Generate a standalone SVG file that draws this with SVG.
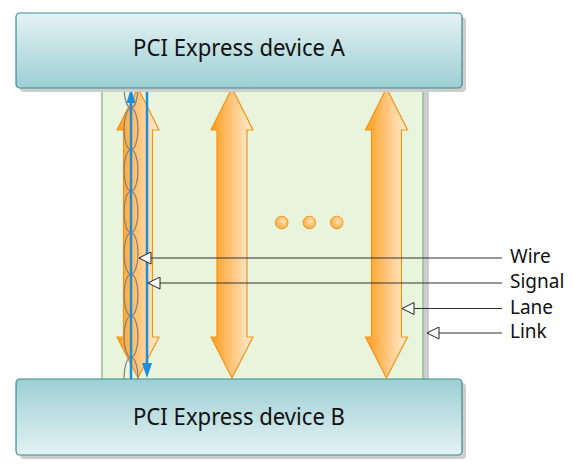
<svg xmlns="http://www.w3.org/2000/svg" width="574" height="474" viewBox="0 0 574 474">
<defs>
<linearGradient id="gA" x1="0" y1="0" x2="0" y2="1"><stop offset="0" stop-color="#e4f2f4"/><stop offset="1" stop-color="#9dcfd3"/></linearGradient>
<linearGradient id="gB" x1="0" y1="0" x2="0" y2="1"><stop offset="0" stop-color="#9dcfd3"/><stop offset="1" stop-color="#e4f2f4"/></linearGradient>
<linearGradient id="gLane" x1="0" y1="0" x2="1" y2="0"><stop offset="0.1" stop-color="#ffa42e"/><stop offset="0.9" stop-color="#ffe6c6"/></linearGradient>
<radialGradient id="gDot" cx="0.6" cy="0.4" r="0.7"><stop offset="0" stop-color="#ffe2b8"/><stop offset="1" stop-color="#ffa42e"/></radialGradient>
<marker id="tri" viewBox="0 0 13 13" refX="12.5" refY="6.5" markerWidth="13" markerHeight="13" markerUnits="userSpaceOnUse" orient="auto">
<path d="M12.5,6.5 L0.5,0.5 L0.5,12.5 Z" fill="#fff" stroke="#222" stroke-width="1"/>
</marker>
</defs>
<style>
.box{stroke:#3a8b8d;stroke-width:1.2}
.shadow{fill:#cdcdcd}
.title{font-family:"Noto Sans","Open Sans",sans-serif;font-size:23.5px;fill:#111}
.lab{font-family:"Noto Sans","Open Sans",sans-serif;font-size:19px;fill:#111}
.lane{fill:url(#gLane);stroke:#f0951a;stroke-width:1.2}
.blue{stroke:#1a8fe0;stroke-width:2.5;fill:none}
.twist{fill:none;stroke:#7f7f7f;stroke-width:1.2}
.ptr{stroke:#333;stroke-width:1.2;fill:none}
.dot{fill:url(#gDot);stroke:#f0951a;stroke-width:1}
</style>
<g id="link">
<rect x="423" y="88" width="6" height="292" class="shadow"/>
<rect x="102" y="86" width="321" height="296" fill="#e8f4dc" stroke="#8fc08f" stroke-width="1.5"/>
</g>
<g id="lane1"><path class="lane" d="M138,88 L159,130 L152.5,130 L152.5,337 L159,337 L138,378 L117,337 L123.5,337 L123.5,130 L117,130 Z"/></g>
<g id="lane2"><path class="lane" d="M232,88 L253,130 L247,130 L247,337 L253,337 L232,378 L211,337 L217,337 L217,130 L211,130 Z"/></g>
<g id="lane3"><path class="lane" d="M386.5,88 L407.5,130 L401.5,130 L401.5,337 L407.5,337 L386.5,378 L365.5,337 L371.5,337 L371.5,130 L365.5,130 Z"/></g>
<g id="wire">
<g class="twist">
<ellipse cx="131" cy="87.3" rx="7" ry="20.75"/>
<ellipse cx="131" cy="129" rx="7" ry="20.75"/>
<ellipse cx="131" cy="170.5" rx="7" ry="20.75"/>
<ellipse cx="131" cy="212" rx="7" ry="20.75"/>
<ellipse cx="131" cy="253.5" rx="7" ry="20.75"/>
<ellipse cx="131" cy="295" rx="7" ry="20.75"/>
<ellipse cx="131" cy="336.5" rx="7" ry="20.75"/>
<ellipse cx="131" cy="378" rx="7" ry="20.75"/>
</g>
<line class="blue" x1="131" y1="102" x2="131" y2="380"/>
<path d="M131,88 L135.5,103 L126.5,103 Z" fill="#1a8fe0"/>
</g>
<g id="signal">
<line class="blue" x1="147" y1="86" x2="147" y2="364"/>
<path d="M147,378 L152,363 L142,363 Z" fill="#1a8fe0"/>
</g>
<g id="dots">
<circle class="dot" cx="281.7" cy="222.5" r="6.3"/>
<circle class="dot" cx="309.3" cy="222.5" r="6.3"/>
<circle class="dot" cx="336.7" cy="222.5" r="6.3"/>
</g>
<g id="deviceA">
<rect x="20" y="17" width="446" height="75" rx="4" class="shadow"/>
<rect x="16" y="13" width="446" height="75" rx="4" fill="url(#gA)" class="box"/>
<text x="239" y="56" text-anchor="middle" class="title" textLength="212" lengthAdjust="spacingAndGlyphs">PCI Express device A</text>
</g>
<g id="deviceB">
<rect x="20" y="383" width="446" height="76" rx="4" class="shadow"/>
<rect x="16" y="379" width="446" height="76" rx="4" fill="url(#gB)" class="box"/>
<text x="239" y="425" text-anchor="middle" class="title" textLength="212" lengthAdjust="spacingAndGlyphs">PCI Express device B</text>
</g>
<g id="connectors">
<line class="ptr" x1="502" y1="258" x2="139" y2="258" marker-end="url(#tri)"/>
<line class="ptr" x1="502" y1="283" x2="148" y2="283" marker-end="url(#tri)"/>
<line class="ptr" x1="502" y1="308.5" x2="402" y2="308.5" marker-end="url(#tri)"/>
<line class="ptr" x1="502" y1="333" x2="427" y2="333" marker-end="url(#tri)"/>
</g>
<g id="labels">
<text x="510" y="263" class="lab">Wire</text>
<text x="510" y="288" class="lab">Signal</text>
<text x="510" y="313.5" class="lab">Lane</text>
<text x="510" y="338" class="lab">Link</text>
</g>
</svg>
